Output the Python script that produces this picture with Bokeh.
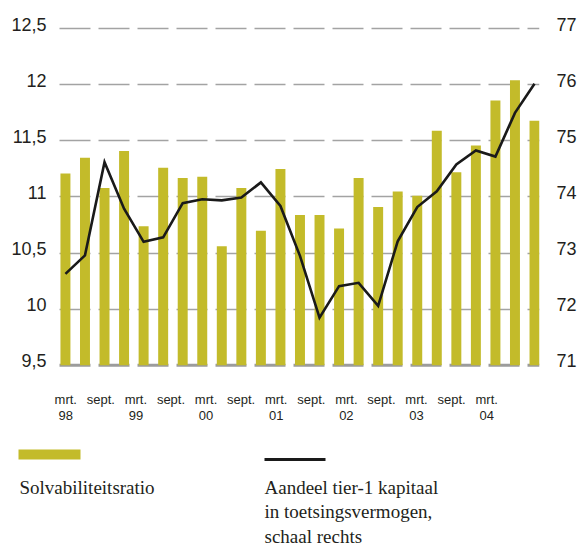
from bokeh.plotting import figure
from bokeh.models import (Range1d, LinearAxis, FixedTicker, Grid, Span,
                          CustomJSTickFormatter, ColumnDataSource)
from bokeh.layouts import column, row
from bokeh.embed import file_html
from bokeh.resources import INLINE
from bokeh.core.properties import value

# ---------------- data ----------------
quarters = ["mrt. 98", "jun. 98", "sept. 98", "dec. 98",
            "mrt. 99", "jun. 99", "sept. 99", "dec. 99",
            "mrt. 00", "jun. 00", "sept. 00", "dec. 00",
            "mrt. 01", "jun. 01", "sept. 01", "dec. 01",
            "mrt. 02", "jun. 02", "sept. 02", "dec. 02",
            "mrt. 03", "jun. 03", "sept. 03", "dec. 03",
            "mrt. 04"]
solvency = [11.21, 11.35, 11.08, 11.41, 10.74, 11.26, 11.17, 11.18,
            10.56, 11.08, 10.70, 11.25, 10.84, 10.84, 10.72, 11.17,
            10.91, 11.05, 11.01, 11.59, 11.22, 11.46, 11.86, 12.04, 11.68]
tier1 = [72.63, 72.96, 74.62, 73.79, 73.20, 73.28, 73.89, 73.96,
         73.94, 73.99, 74.26, 73.84, 72.95, 71.85, 72.41, 72.47,
         72.06, 73.21, 73.82, 74.10, 74.58, 74.83, 74.72, 75.50, 76.02]
x_labels = ["mrt.\n98", "sept.", "mrt.\n99", "sept.", "mrt.\n00", "sept.",
            "mrt.\n01", "sept.", "mrt.\n02", "sept.", "mrt.\n03", "sept.",
            "mrt.\n04"]
left_ticks = [9.5, 10, 10.5, 11, 11.5, 12, 12.5]
right_ticks = [71, 72, 73, 74, 75, 76, 77]
legend_bar = "Solvabiliteitsratio"
legend_line = ["Aandeel tier-1 kapitaal", "in toetsingsvermogen,", "schaal rechts"]

BAR = "#c3bb2a"
INK = "#231f20"
GRID = "#a3a3a3"
LINE = "#1a1a1a"

idx = list(range(len(quarters)))
src = ColumnDataSource(dict(x=idx, q=quarters, solv=solvency, tier=tier1))

# ---------------- main chart ----------------
p = figure(width=579, height=425,
           x_range=Range1d(-0.713, 24.255), y_range=Range1d(9.48, 12.6),
           x_axis_location=None, y_axis_location=None,
           toolbar_location=None, output_backend="svg",
           min_border_left=51, min_border_right=38,
           min_border_top=17, min_border_bottom=55)
p.outline_line_color = None
p.grid.visible = False
p.background_fill_color = "white"
p.border_fill_color = "white"

p.extra_y_ranges = {"right": Range1d(70.96, 77.2),
                    "yl": Range1d(9.44, 12.56),
                    "yr": Range1d(70.88, 77.12)}
p.extra_x_ranges = {"lab": Range1d(-0.406, 13.506)}

grid = Grid(dimension=1, ticker=FixedTicker(ticks=left_ticks[1:]),
            grid_line_color=GRID, grid_line_width=1.5,
            grid_line_dash="31 8", grid_line_dash_offset=31)
p.add_layout(grid, "center")
base = Span(location=left_ticks[0], dimension="width", line_color="#9c9c9c",
            line_width=3, line_dash="31 8", line_dash_offset=31, level="underlay")
p.add_layout(base)

p.vbar(x="x", top="solv", bottom=left_ticks[0], width=0.51, source=src,
       fill_color=BAR, line_color=None)
p.line(x="x", y="tier", source=src, y_range_name="right",
       line_color=LINE, line_width=2.6, line_join="miter")


def style(ax, size):
    ax.axis_line_color = None
    ax.major_tick_line_color = None
    ax.minor_tick_line_color = None
    ax.major_tick_out = 0
    ax.major_tick_in = 0
    ax.minor_tick_out = 0
    ax.major_label_text_font = "Liberation Sans"
    ax.major_label_text_font_size = size
    ax.major_label_text_color = INK


ax_l = LinearAxis(y_range_name="yl", ticker=FixedTicker(ticks=left_ticks),
                  formatter=CustomJSTickFormatter(code="return tick.toString().replace('.', ',');"))
style(ax_l, "18px")
ax_l.major_label_standoff = 5
p.add_layout(ax_l, "left")

ax_r = LinearAxis(y_range_name="yr", ticker=FixedTicker(ticks=right_ticks))
style(ax_r, "18px")
ax_r.major_label_standoff = 17
p.add_layout(ax_r, "right")

ax_b = LinearAxis(x_range_name="lab", ticker=FixedTicker(ticks=list(range(len(x_labels)))),
                  major_label_overrides={i: s for i, s in enumerate(x_labels)})
style(ax_b, "13px")
ax_b.major_label_text_line_height = 1.08
ax_b.major_label_standoff = 24
p.add_layout(ax_b, "below")

# ---------------- legend (separate small figure, pixel coordinates) ----------------
lg = figure(width=579, height=120, x_range=Range1d(0, 579), y_range=Range1d(120, 0),
            x_axis_location=None, y_axis_location=None,
            toolbar_location=None, output_backend="svg",
            min_border=0, min_border_left=0, min_border_right=0,
            min_border_top=0, min_border_bottom=0)
lg.outline_line_color = None
lg.grid.visible = False
lg.quad(left=[18], right=[80], top=[24], bottom=[34], fill_color=BAR, line_color=None)
lg.line(x=[264, 325], y=[34, 34], line_color=LINE, line_width=3)
lg.text(x=[19], y=[62], text=[legend_bar], text_font=value("Liberation Serif"),
        text_font_size="19px", text_color=INK, text_baseline="alphabetic")
lg.text(x=[264, 264, 264], y=[62, 86, 110.5], text=legend_line,
        text_font=value("Liberation Serif"), text_font_size="19px",
        text_color=INK, text_baseline="alphabetic")

layout = column(p, row(lg))
open("out.html", "w").write(file_html(layout, INLINE))
